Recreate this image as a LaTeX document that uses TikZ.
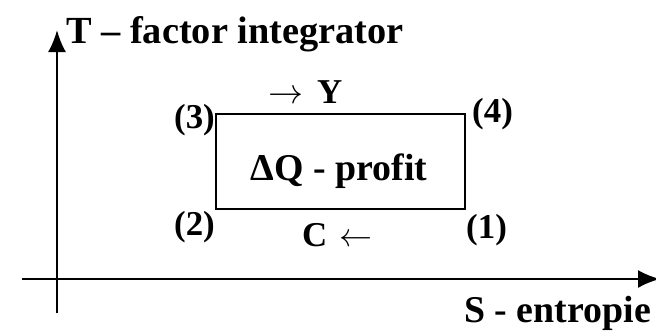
\documentclass[tikz,border=0pt]{standalone}
\usepackage{fontspec}
\usepackage{graphicx}
\setmainfont{Liberation Serif}
\usetikzlibrary{arrows.meta}
\newcommand{\bigrarrow}{\resizebox{35bp}{!}{$\rightarrow$}}
\newcommand{\bigharrow}{\resizebox{33bp}{!}{$\leftarrow$}}
\tikzset{
  axis/.style={line width=2.4bp,-{Latex[length=22bp,width=18bp]}},
  frame/.style={draw,line width=2.4bp},
  big/.style={inner sep=0pt,font=\bfseries\fontsize{38.5}{40}\selectfont},
  mid/.style={inner sep=0pt,font=\bfseries\fontsize{38}{40}\selectfont},
  corner/.style={inner sep=0pt,font=\bfseries\fontsize{35}{38}\selectfont},
}
\begin{document}
\begin{tikzpicture}[x=1bp,y=-1bp]
\useasboundingbox (0,0) rectangle (656,331);
% axes
\coordinate (ytop) at (57,30);
\coordinate (ybot) at (57,313);
\coordinate (xl) at (22,279);
\coordinate (xr) at (660,279);
\draw[axis] (ybot) -- (ytop);
\draw[axis] (xl) -- (xr);
% cycle rectangle
\coordinate (c3) at (216,114);
\coordinate (c1) at (465,209);
\draw[frame] (c3) rectangle (c1);
\node[mid,anchor=base] (profit) at (339,180) {ΔQ - profit};
% labels
\node[big,anchor=base west] (tlab) at (66,43) {T – factor integrator};
\node[mid,anchor=base east] (slab) at (651,322) {S - entropie};
\node[corner,anchor=base east] (l3) at (215,128) {(3)};
\node[corner,anchor=base west] (l4) at (472,122) {(4)};
\node[corner,anchor=base east] (l2) at (215,235) {(2)};
\node[corner,anchor=base west] (l1) at (466,238) {(1)};
\node[corner,anchor=base west] (ylab) at (268,103) {\bigrarrow\hspace{14bp}Y};
\node[corner,anchor=base west] (clab) at (302,246) {C\hspace{12bp}\bigharrow};
\end{tikzpicture}
\end{document}
